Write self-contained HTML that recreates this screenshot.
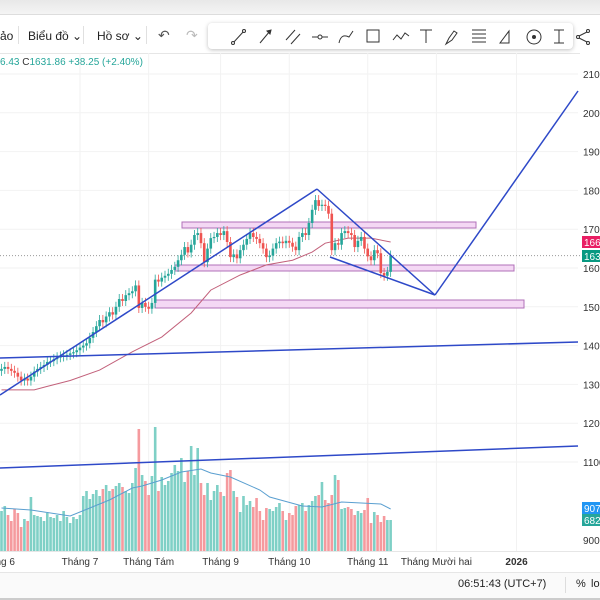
<!DOCTYPE html>
<html><head><meta charset="utf-8"><style>
body{margin:0;width:600px;height:600px;overflow:hidden;background:#fff;font-family:"Liberation Sans",sans-serif;position:relative}
.t{position:absolute;white-space:nowrap}
</style></head><body>
<div style="position:absolute;left:0;top:0;width:600px;height:14px;background:linear-gradient(#e8e8e8,#f4f4f4);border-bottom:1px solid #ddd"></div>
<div style="position:absolute;left:0;top:15px;width:600px;height:38px;background:#fff;border-bottom:1px solid #e6e6e6"></div>
<div class="t" style="left:0;top:29px;font-size:12px;color:#222">ảo</div>
<div style="position:absolute;left:18px;top:26px;width:1px;height:18px;background:#e0e0e0"></div>
<div class="t" style="left:28px;top:29px;font-size:12px;color:#222">Biểu đồ ⌄</div>
<div style="position:absolute;left:83px;top:26px;width:1px;height:18px;background:#e0e0e0"></div>
<div class="t" style="left:97px;top:29px;font-size:12px;color:#222">Hồ sơ ⌄</div>
<div style="position:absolute;left:146px;top:26px;width:1px;height:18px;background:#e0e0e0"></div>
<div class="t" style="left:158px;top:27px;font-size:14px;color:#555">↶</div>
<div class="t" style="left:186px;top:27px;font-size:14px;color:#bbb">↷</div>
<div style="position:absolute;left:208px;top:23px;width:365px;height:26px;background:#fff;border-radius:4px;box-shadow:0 1px 4px rgba(0,0,0,.25)"></div>
<svg style="position:absolute;left:0;top:0" width="600" height="60">
<g stroke="#333" stroke-width="1" fill="none">
<g><line x1="233" y1="43" x2="244" y2="31"/><circle cx="233" cy="43" r="1.5" fill="#fff"/><circle cx="244" cy="31" r="1.5" fill="#fff"/></g>
<g><line x1="260" y1="43" x2="270" y2="31"/><path d="M267 31l4-1-1 4z" fill="#333"/></g>
<g><line x1="286" y1="40" x2="295" y2="30"/><line x1="291" y1="44" x2="300" y2="34"/></g>
<g><line x1="312" y1="37" x2="328" y2="37"/><circle cx="320" cy="37" r="2" fill="#fff"/></g>
<g><path d="M339 43q2-10 10-6l4-6"/></g>
<g><rect x="367" y="30" width="12" height="12"/></g>
<g><path d="M393 40l4-5 4 4 4-6 4 3"/></g>
<g><path d="M420 30h12M426 30v13"/></g>
<g><path d="M446 44l3-6 5-7 3 2-5 7z"/></g>
<g><path d="M472 30h14M472 34h14M472 38h14M472 42h14"/></g>
<g><path d="M500 43l9-12v12z"/></g>
<g><circle cx="534" cy="37" r="7"/><circle cx="534" cy="37" r="1.5" fill="#333"/></g>
<g><path d="M554 30h10M559 30v13M554 43h10"/></g>
<g><circle cx="578" cy="37" r="1.5"/><circle cx="588" cy="31" r="1.5"/><circle cx="588" cy="43" r="1.5"/><path d="M579 36l8-4M579 38l8 4"/></g>
</g></svg>
<div class="t" style="left:0;top:57px;font-size:10px;color:#26a69a">6.43 <span style="color:#333">C</span>1631.86 +38.25 (+2.40%)</div>
<svg id="chart" style="position:absolute;left:0;top:53px" width="600" height="547" viewBox="0 53 600 547"></svg>
<script>
const closes=[134,134.5,134,133.5,133,132,131,131.5,131,132,133.3,134,134.5,135,135.8,136,136.5,137,137.2,137.5,137.6,138,138.3,138.8,139.5,140,140.6,142,143.5,145,146.6,146,147.5,148.6,148,150,152,151.5,153,153.5,154,155.5,149.7,151,150,149.5,151,157,156.5,157.5,158,158.5,159.5,160.3,162,163.4,165.4,164,166,168.5,169,166.4,161.5,165,167.7,168,169,168.5,169.5,166.7,162.8,163.5,162.5,164.6,166,167.5,169,168,167.5,166.4,165,162.8,163.2,165,166.4,166.8,166.4,167,166.5,165.5,164.6,168,169,168.5,171.6,175,177.5,176,176.3,176,174,164.6,166.4,166,169,169.5,169,168.5,165.4,167,168,165,163,162,164.6,163.8,158.7,158,159,163.2];
const volumes=[40,45,36,30,42,38,24,32,30,54,36,35,34,30,38,34,33,36,30,40,34,28,34,32,36,55,60,52,57,61,55,62,66,60,62,65,68,64,60,58,68,83,122,76,70,56,75,124,60,74,66,70,78,86,80,93,69,80,105,76,103,68,56,68,51,60,66,59,55,78,81,60,54,39,55,46,50,44,53,40,31,43,42,40,44,48,40,31,38,36,45,46,48,40,46,50,55,56,69,51,48,56,76,71,42,43,44,42,36,40,38,41,53,28,39,36,29,35,31,31];
const maIdx=[0,10,14,21,30,40,49,58,64,73,81,89,95,99,106,113,119];
const maVals=[128.6,128.6,129.5,131,133.7,138.4,142.2,148.4,154.3,158.2,160.8,162,164.1,166.4,167.7,167.7,166.7];
const vmaIdx=[0,9,21,27,33,40,43,49,55,61,64,70,79,82,92,98,104,110,116,119];
const vmaVals=[43,41,35,43,51,63,65,71,79,82,78,74,61,54,45,44,49,48,47,42];
const priceTicks=[2100,2000,1900,1800,1700,1600,1500,1400,1300,1200,1100];
const timeLabels=["Tháng 6","Tháng 7","Tháng Tám","Tháng 9","Tháng 10","Tháng 11","Tháng Mười hai","2026"];
const timeIdx=[-1.5,24,45,67,88,112,133,157.5];

const S='http://www.w3.org/2000/svg',svg=document.getElementById('chart');
const X=i=>1.5+i*3.27, Y=p=>74+(210-p)*3.88, VY=v=>551-v;
function el(t,a,p){const e=document.createElementNS(S,t);for(const k in a)e.setAttribute(k,a[k]);(p||svg).appendChild(e);return e;}
priceTicks.forEach(t=>{const g=el('line',{x1:0,x2:578,y1:Y(t/10),y2:Y(t/10),stroke:'#f2f2f2'});});
timeIdx.forEach(i=>{const g=el('line',{x1:X(i),x2:X(i),y1:53,y2:551,stroke:'#f2f2f2'});});
volumes.forEach((v,i)=>{const up=i==0||closes[i]>=closes[i-1];const r=el('rect',{x:X(i)-1.3,y:VY(v),width:2.6,height:v,fill:up?'#7fd0c6':'#f59a9e'});});
let vp=vmaIdx.map((k,j)=>X(k)+','+VY(vmaVals[j])).join(' ');
const vm=el('polyline',{points:vp,fill:'none',stroke:'#5a9fd0','stroke-width':1});
[[182,222,294,6],[175,265,339,6],[155,300,369,8]].forEach(r=>{const e=el('rect',{x:r[0],y:r[1],width:r[2],height:r[3],fill:'#f4d8f4',stroke:'#b070b8','stroke-width':1});});
const cp=el('line',{x1:0,x2:580,y1:Y(163.2),y2:Y(163.2),stroke:'#999','stroke-dasharray':'1 2'});
let mp=maIdx.map((k,j)=>X(k)+','+Y(maVals[j])).join(' ');
const ma=el('polyline',{points:mp,fill:'none',stroke:'#c2607a','stroke-width':1});
closes.forEach((c,i)=>{const o=i==0?c-0.5:closes[i-1];const up=c>=o;const col=up?'#26a69a':'#ef5350';
const g=el('g',{});
el('line',{x1:X(i),x2:X(i),y1:Y(Math.max(o,c)+1.3),y2:Y(Math.min(o,c)-1.3),stroke:col,'stroke-width':0.8},g);
const t=Y(Math.max(o,c)),b=Y(Math.min(o,c));el('rect',{x:X(i)-1.3,y:t,width:2.6,height:Math.max(b-t,1.2),fill:col},g);});
[[0,395,317,189],[317,189,435,295],[435,295,578,91],[330,257,435,295],[0,358,578,342],[0,468,578,446]].forEach(l=>{const e=el('line',{x1:l[0],y1:l[1],x2:l[2],y2:l[3],stroke:'#2e49c8','stroke-width':1.5});});
el('rect',{x:580,y:53,width:20,height:500,fill:'#fff'});
priceTicks.forEach(t=>{const e=el('text',{x:583,y:Y(t/10)+4,'font-size':10,fill:'#333'});e.textContent=t;});
const vt=el('text',{x:583,y:544,'font-size':10,fill:'#333'});vt.textContent='9000';
[[236,'#e91e63','1660'],[250,'#089981','1631'],[502,'#2196f3','907'],[514,'#26a69a','682']].forEach(b=>{const g=el('g',{});el('rect',{x:582,y:b[0],width:18,height:12,fill:b[1]},g);const t=el('text',{x:584,y:b[0]+10,'font-size':10,fill:'#fff'},g);t.textContent=b[2];});
el('line',{x1:0,x2:600,y1:551.5,y2:551.5,stroke:'#e6e6e6'});
timeLabels.forEach((s,j)=>{const e=el('text',{x:X(timeIdx[j]),y:565,'font-size':10,fill:'#333','text-anchor':'middle','font-weight':j==7?'bold':'normal'});e.textContent=s;});
</script>
<div style="position:absolute;left:0;top:572px;width:600px;height:25px;background:#fafafa;border-top:1px solid #e6e6e6;border-bottom:2px solid #ccc"></div>
<div class="t" style="left:458px;top:578px;font-size:11px;color:#222">06:51:43 (UTC+7)</div>
<div style="position:absolute;left:565px;top:577px;width:1px;height:16px;background:#ddd"></div>
<div class="t" style="left:576px;top:578px;font-size:11px;color:#222">%</div>
<div class="t" style="left:591px;top:578px;font-size:11px;color:#222">log</div>
</body></html>
